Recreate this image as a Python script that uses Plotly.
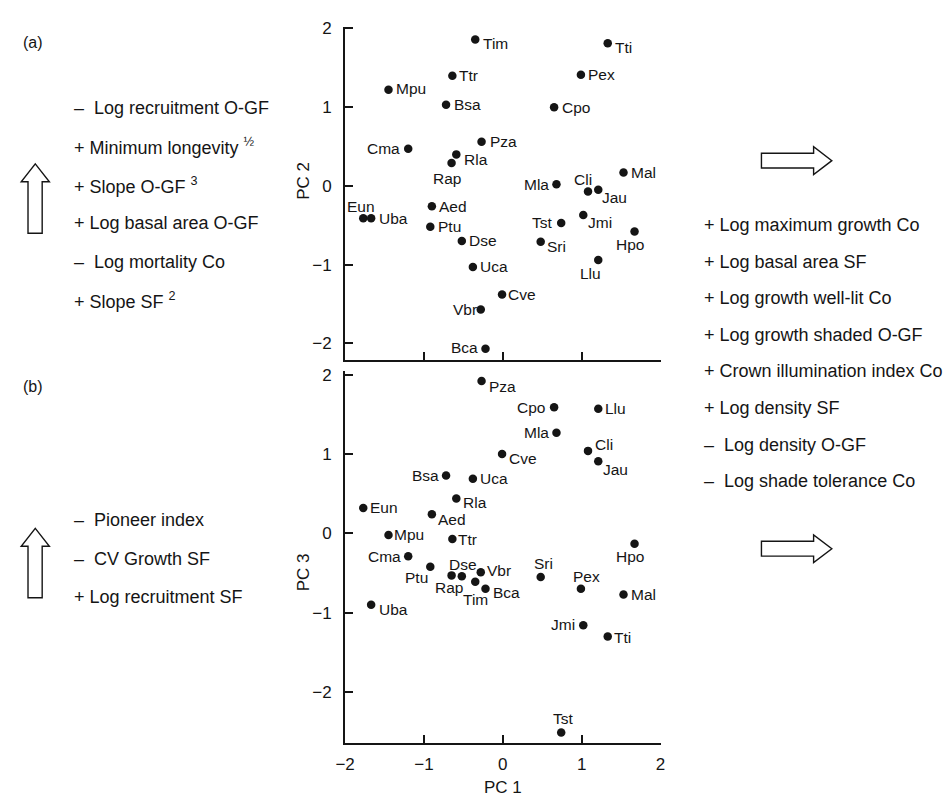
import plotly.graph_objects as go

# ---------------- data ----------------
species = ["Tim", "Tti", "Ttr", "Pex", "Mpu", "Bsa", "Cpo", "Pza", "Cma", "Rla",
           "Rap", "Mal", "Mla", "Cli", "Jau", "Eun", "Uba", "Aed", "Ptu", "Jmi",
           "Tst", "Hpo", "Dse", "Sri", "Llu", "Uca", "Cve", "Vbr", "Bca"]
pc1 = [-0.35, 1.33, -0.64, 0.99, -1.45, -0.72, 0.65, -0.27, -1.20, -0.59,
       -0.65, 1.53, 0.68, 1.08, 1.21, -1.77, -1.67, -0.90, -0.92, 1.02,
       0.74, 1.67, -0.52, 0.48, 1.21, -0.38, -0.01, -0.28, -0.22]
pc2 = [1.86, 1.81, 1.40, 1.41, 1.22, 1.03, 1.00, 0.56, 0.47, 0.40,
       0.29, 0.17, 0.02, -0.07, -0.05, -0.41, -0.41, -0.26, -0.52, -0.37,
       -0.47, -0.58, -0.70, -0.71, -0.94, -1.03, -1.38, -1.57, -2.07]
pc3 = [-0.61, -1.30, -0.07, -0.70, -0.02, 0.73, 1.59, 1.92, -0.29, 0.44,
       -0.53, -0.77, 1.27, 1.04, 0.91, 0.32, -0.90, 0.24, -0.42, -1.16,
       -2.51, -0.13, -0.54, -0.55, 1.57, 0.69, 1.00, -0.49, -0.70]
tick_values = [-2, -1, 0, 1, 2]

left_text_a = ["–\u00a0 Log recruitment O-GF",
               "+ Minimum longevity <sup>½</sup>",
               "+ Slope O-GF <sup>3</sup>",
               "+ Log basal area O-GF",
               "–\u00a0 Log mortality Co",
               "+ Slope SF <sup>2</sup>"]
left_text_b = ["–\u00a0 Pioneer index",
               "–\u00a0 CV Growth SF",
               "+ Log recruitment SF"]
right_text = ["+ Log maximum growth Co",
              "+ Log basal area SF",
              "+ Log growth well-lit Co",
              "+ Log growth shaded O-GF",
              "+ Crown illumination index Co",
              "+ Log density SF",
              "–\u00a0 Log density O-GF",
              "–\u00a0 Log shade tolerance Co"]

# ---------------- styles (label offsets in px: dx right, dy down) ----------------
offs_a = {"Tim": (20, 4), "Tti": (16, 4), "Ttr": (16, 0), "Pex": (21, 0), "Mpu": (23, -1),
          "Bsa": (21, 0), "Cpo": (22, 0), "Pza": (22, 0), "Cma": (-25, 0), "Rla": (20, 5),
          "Rap": (-5, 15), "Mal": (20, 0), "Mla": (-20, 0), "Cli": (-5, -12), "Jau": (16, 8),
          "Eun": (-2, -12), "Uba": (22, 0), "Aed": (21, 0), "Ptu": (19, 0), "Jmi": (17, 7),
          "Tst": (-19, 0), "Hpo": (-5, 13), "Dse": (21, 0), "Sri": (16, 5), "Llu": (-8, 14),
          "Uca": (21, 0), "Cve": (20, 0), "Vbr": (-16, 0), "Bca": (-21, -1)}
offs_b = {"Pza": (21, 5), "Cpo": (-23, 0), "Llu": (17, 0), "Mla": (-20, 0), "Cli": (16, -6),
          "Cve": (21, 4), "Jau": (17, 8), "Bsa": (-21, 0), "Uca": (21, 0), "Rla": (19, 4),
          "Eun": (21, 0), "Aed": (20, 5), "Mpu": (21, 0), "Ttr": (15, 1), "Hpo": (-5, 13),
          "Cma": (-24, 0), "Ptu": (-14, 11), "Rap": (-3, 12), "Dse": (1, -12), "Vbr": (18, -2),
          "Tim": (0, 18), "Bca": (21, 4), "Sri": (3, -13), "Pex": (6, -12), "Mal": (20, 0),
          "Uba": (22, 5), "Jmi": (-20, -1), "Tti": (15, 1), "Tst": (2, -14)}

W, H = 950, 800
FONT = "Liberation Sans, Arial, Helvetica, sans-serif"
INK = "#151515"


def px(x):
    return x / W


def py(y):
    return 1 - y / H


fig = go.Figure()
fig.add_trace(go.Scatter(x=pc1, y=pc2, mode="markers", text=species, hoverinfo="text",
                         marker=dict(size=8.5, color=INK), xaxis="x", yaxis="y", showlegend=False))
fig.add_trace(go.Scatter(x=pc1, y=pc3, mode="markers", text=species, hoverinfo="text",
                         marker=dict(size=8.5, color=INK), xaxis="x2", yaxis="y2", showlegend=False))

ann = []
for name, xv, yv in zip(species, pc1, pc2):
    dx, dy = offs_a[name]
    ann.append(dict(x=xv, y=yv, xref="x", yref="y", text=name, showarrow=False,
                    xanchor="center", yanchor="middle", xshift=dx, yshift=-dy,
                    font=dict(size=15.5, color=INK, family=FONT)))
for name, xv, yv in zip(species, pc1, pc3):
    dx, dy = offs_b[name]
    ann.append(dict(x=xv, y=yv, xref="x2", yref="y2", text=name, showarrow=False,
                    xanchor="center", yanchor="middle", xshift=dx, yshift=-dy,
                    font=dict(size=15.5, color=INK, family=FONT)))


def side(text, x, y, size=18, anchor="left", angle=0):
    ann.append(dict(x=px(x), y=py(y), xref="paper", yref="paper", text=text, showarrow=False,
                    xanchor=anchor, yanchor="middle", textangle=angle,
                    font=dict(size=size, color=INK, family=FONT)))


for i, t in enumerate(left_text_a):
    side(t, 63, 102 + i * 38.8)
for i, t in enumerate(left_text_b):
    side(t, 63, 518 + i * 38.5)
for i, t in enumerate(right_text):
    side(t, 703, 220 + i * 36.9)
side("(a)", 11, 36, size=16)
side("(b)", 11, 383, size=16)
side("PC 2", 298, 175, size=17, anchor="center", angle=-90)
side("PC 3", 298, 570, size=17, anchor="center", angle=-90)
side("PC 1", 501, 787, size=17, anchor="center")


def path(points):
    return "M " + " L ".join(f"{px(a):.5f},{py(b):.5f}" for a, b in points) + " Z"


def up_arrow(top):
    return [(25.7, top), (40, top + 18), (32.7, top + 18), (32.7, top + 70),
            (18.3, top + 70), (18.3, top + 18), (11.4, top + 18)]


def right_arrow(cy):
    return [(763.5, cy - 7.5), (816.5, cy - 7.5), (816.5, cy - 14), (835, cy),
            (816.5, cy + 14), (816.5, cy + 7.5), (763.5, cy + 7.5)]


shapes = []
for pts in [up_arrow(158.3), up_arrow(526), right_arrow(155), right_arrow(546.5)]:
    shapes.append(dict(type="path", xref="paper", yref="paper", path=path(pts),
                       line=dict(color=INK, width=1.4), fillcolor="white"))

axis_common = dict(showline=True, linewidth=2, linecolor=INK, ticks="inside", ticklen=8,
                   tickwidth=2, tickcolor=INK, showgrid=False, zeroline=False,
                   tickvals=tick_values, tickfont=dict(size=17, color=INK, family=FONT),
                   fixedrange=True)

xdom = [340.5 / W, 661 / W]
fig.update_layout(
    width=W, height=H, margin=dict(l=0, r=0, t=0, b=0),
    paper_bgcolor="white", plot_bgcolor="white",
    font=dict(family=FONT, color=INK),
    xaxis=dict(domain=xdom, range=[-2, 2], anchor="y", showticklabels=False, **axis_common),
    yaxis=dict(domain=[py(356), py(20)], range=[-2.21, 2.02], anchor="x",
               ticklabelstandoff=8, **axis_common),
    xaxis2=dict(domain=xdom, range=[-2, 2], anchor="y2", ticklabelstandoff=4, **axis_common),
    yaxis2=dict(domain=[py(743), py(367)], range=[-2.65, 2.05], anchor="x2",
                ticklabelstandoff=8, **axis_common),
    annotations=ann, shapes=shapes, showlegend=False,
)

# place the 950x800 figure at the window's top-left corner (no default body margin)
fig.write_html("out.html",
               config={"displayModeBar": False},
               post_script="document.body.style.margin='0';document.body.style.overflow='hidden';")
